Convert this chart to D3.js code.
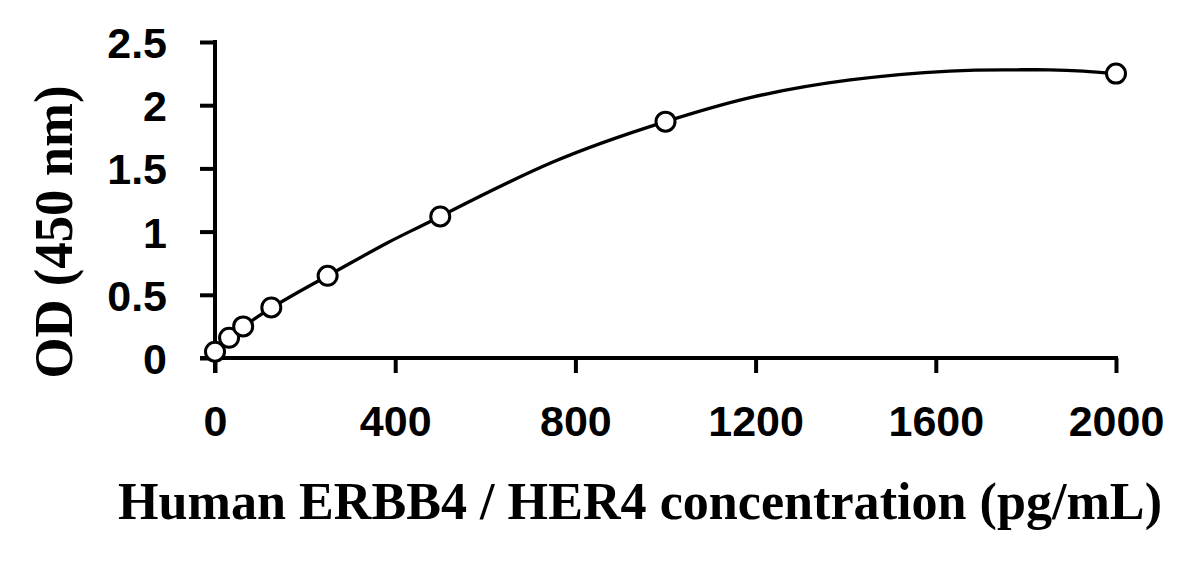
<!DOCTYPE html>
<html>
<head>
<meta charset="utf-8">
<script src="https://cdn.jsdelivr.net/npm/d3@7/dist/d3.min.js"></script>
<style>
  html, body { margin: 0; padding: 0; background: #fff; }
  svg { display: block; }
</style>
</head>
<body>
<svg id="chart" width="1195" height="562"></svg>
<script>
// Standard points (concentration pg/mL, OD 450 nm)
const concentrations = [0, 31.25, 62.5, 125, 250, 500, 1000, 2000];
const odValues = [0.05, 0.16, 0.25, 0.40, 0.65, 1.12, 1.87, 2.25];

// Fitted curve
const curveConc = [0, 100, 250, 382, 500, 750, 1000, 1188, 1410, 1631, 1760, 1853, 1927, 2000];
const curveOD   = [0.05, 0.34, 0.65, 0.91, 1.12, 1.55, 1.87, 2.06, 2.20, 2.27, 2.28, 2.28, 2.27, 2.25];

const xTicks = [0, 400, 800, 1200, 1600, 2000];
const yTicks = [0, 0.5, 1, 1.5, 2, 2.5];
const xTitle = "Human ERBB4 / HER4 concentration (pg/mL)";
const yTitle = "OD (450 nm)";

const svg = d3.select("#chart");
const x = d3.scaleLinear().domain([0, 2000]).range([215, 1116]);
const y = d3.scaleLinear().domain([0, 2.5]).range([358, 42]);

const axisStroke = 4;

// X axis
const gx = svg.append("g").attr("transform", `translate(0,${y(0)})`)
  .call(d3.axisBottom(x).tickValues(xTicks).tickSize(15).tickSizeOuter(0).tickPadding(32).tickFormat(d3.format("d")));
// Y axis
const gy = svg.append("g").attr("transform", `translate(${x(0)},0)`)
  .call(d3.axisLeft(y).tickValues(yTicks).tickSize(15).tickSizeOuter(0).tickPadding(33).tickFormat(d => String(d)));

[gx, gy].forEach(g => {
  g.select(".domain").attr("stroke", "#000").attr("stroke-width", axisStroke);
  g.selectAll(".tick line").attr("stroke", "#000").attr("stroke-width", axisStroke);
  g.selectAll(".tick text")
    .attr("fill", "#000")
    .style("font-family", "'Liberation Sans', Arial, sans-serif")
    .style("font-weight", "bold")
    .style("font-size", "43px");
});
// extend axis lines to meet the origin ticks
gx.select(".domain").attr("d", `M${x(0) - 15},0H${x(2000) + 2}`);
gy.select(".domain").attr("d", `M0,${y(2.5) - 2}V${y(0) + 15}`);
gx.selectAll(".tick text").attr("dy", "0.71em");
gy.selectAll(".tick text").attr("dy", "0.36em");

// Curve
const curveData = curveConc.map((c, i) => [c, curveOD[i]]);
svg.append("path")
  .datum(curveData)
  .attr("fill", "none")
  .attr("stroke", "#000")
  .attr("stroke-width", 3.3)
  .attr("d", d3.line().x(d => x(d[0])).y(d => y(d[1])).curve(d3.curveNatural));

// Points
svg.append("g").selectAll("circle")
  .data(concentrations.map((c, i) => [c, odValues[i]]))
  .join("circle")
  .attr("cx", d => x(d[0]))
  .attr("cy", d => y(d[1]))
  .attr("r", 9.5)
  .attr("fill", "#fff")
  .attr("stroke", "#000")
  .attr("stroke-width", 3);

// Titles
svg.append("text")
  .attr("x", 640).attr("y", 519)
  .attr("text-anchor", "middle")
  .attr("textLength", 1044)
  .attr("lengthAdjust", "spacingAndGlyphs")
  .style("font-family", "'Liberation Serif', 'Times New Roman', serif")
  .style("font-weight", "bold")
  .style("font-size", "52px")
  .text(xTitle);

svg.append("text")
  .attr("transform", "translate(72,232) rotate(-90)")
  .attr("text-anchor", "middle")
  .attr("textLength", 293)
  .attr("lengthAdjust", "spacingAndGlyphs")
  .style("font-family", "'Liberation Serif', 'Times New Roman', serif")
  .style("font-weight", "bold")
  .style("font-size", "54px")
  .text(yTitle);
</script>
</body>
</html>
